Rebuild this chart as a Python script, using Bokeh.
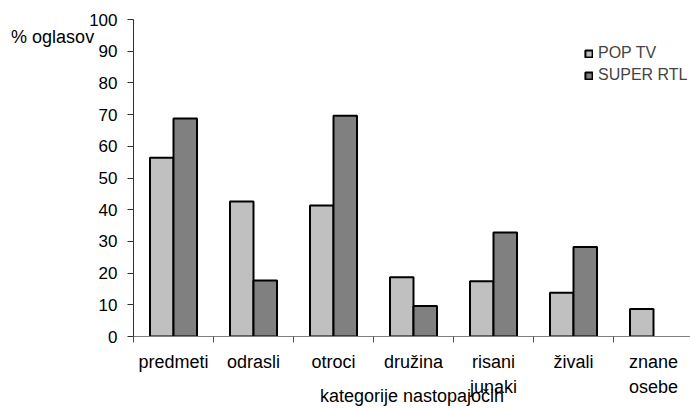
from bokeh.plotting import figure
from bokeh.models import (ColumnDataSource, Range1d, FixedTicker, Legend, LegendItem)
from bokeh.transform import dodge
from bokeh.embed import file_html
from bokeh.resources import INLINE

categories = ["predmeti", "odrasli", "otroci", "družina", "risani\njunaki", "živali", "znane\nosebe"]
pop_tv = [56.4, 42.6, 41.3, 18.7, 17.4, 13.8, 8.7]
super_rtl = [68.8, 17.7, 69.6, 9.6, 32.8, 28.2, float("nan")]
y_ticks = [0, 10, 20, 30, 40, 50, 60, 70, 80, 90, 100]
series_names = ["POP TV", "SUPER RTL"]
y_label = "% oglasov"
x_label = "kategorije nastopajočih"

xpos = [i + 0.5 for i in range(len(categories))]
src = ColumnDataSource(dict(x=xpos, pop=pop_tv, sup=super_rtl))

FONT = "Liberation Sans"

p = figure(width=690, height=409, output_backend="svg", toolbar_location=None,
           x_range=Range1d(0, 557 / 80), y_range=Range1d(0, 100),
           min_border_left=133, min_border_right=0, min_border_top=19, min_border_bottom=73)
p.outline_line_color = None
p.xgrid.visible = False
p.ygrid.visible = False
p.background_fill_color = "white"
p.border_fill_color = "white"

bw = 0.294
r1 = p.vbar(x=dodge("x", -bw / 2, range=p.x_range), top="pop", width=bw, source=src,
            fill_color="#c0c0c0", line_color="black", line_width=2)
r2 = p.vbar(x=dodge("x", bw / 2, range=p.x_range), top="sup", width=bw, source=src,
            fill_color="#808080", line_color="black", line_width=2)

# y axis
ya = p.yaxis[0]
ya.ticker = FixedTicker(ticks=y_ticks)
ya.axis_line_color = "#303030"
ya.major_tick_line_color = "#303030"
ya.major_tick_out = 6
ya.major_tick_in = 0
ya.minor_tick_out = 0
ya.minor_tick_in = 0
ya.major_label_standoff = 10
ya.major_label_text_font = FONT
ya.major_label_text_font_size = "17px"
ya.major_label_text_color = "black"
ya.axis_label = "\n" + y_label
ya.axis_label_orientation = "horizontal"
ya.axis_label_align = "end"
ya.axis_label_standoff = -8
ya.axis_label_text_font = FONT
ya.axis_label_text_font_size = "18px"
ya.axis_label_text_font_style = "normal"
ya.axis_label_text_color = "black"
ya.axis_label_text_line_height = 1.7

# x axis
xa = p.xaxis[0]
xa.ticker = FixedTicker(ticks=xpos, minor_ticks=list(range(len(categories) + 1)))
xa.major_label_overrides = {x: c for x, c in zip(xpos, categories)}
xa.axis_line_color = "#808080"
xa.major_tick_out = 0
xa.major_tick_in = 0
xa.minor_tick_line_color = "#505050"
xa.minor_tick_out = 6
xa.minor_tick_in = 0
xa.major_label_standoff = 9
xa.major_label_text_font = FONT
xa.major_label_text_font_size = "18px"
xa.major_label_text_color = "black"
xa.major_label_text_line_height = 1.25
xa.axis_label = x_label
xa.axis_label_standoff = -14
xa.axis_label_text_font = FONT
xa.axis_label_text_font_size = "18px"
xa.axis_label_text_font_style = "normal"
xa.axis_label_text_color = "black"

legend = Legend(items=[LegendItem(label=series_names[0], renderers=[r1]),
                       LegendItem(label=series_names[1], renderers=[r2])],
                location=(451, 251), margin=0, padding=0, spacing=2,
                glyph_width=9, glyph_height=9, label_height=20, label_standoff=5,
                label_text_font=FONT, label_text_font_size="16px",
                border_line_color=None, background_fill_alpha=0)
p.add_layout(legend)

open("out.html", "w").write(file_html(p, INLINE))
